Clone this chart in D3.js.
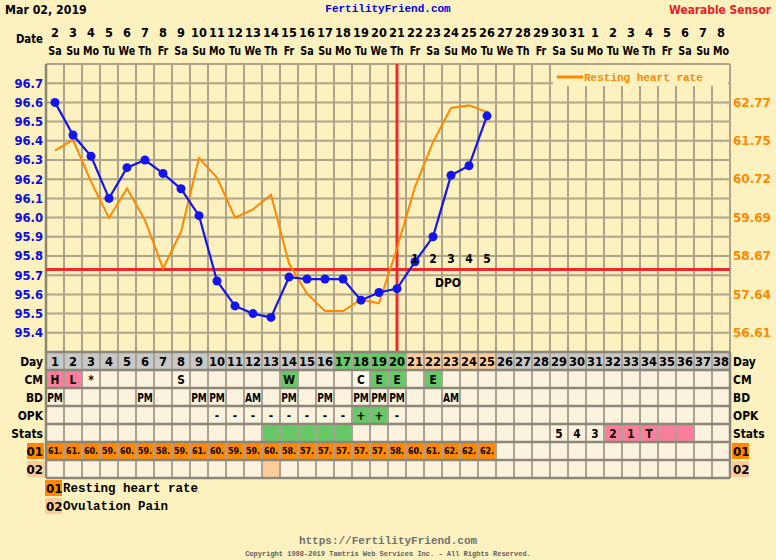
<!DOCTYPE html>
<html>
<head>
<meta charset="utf-8">
<script src="https://cdnjs.cloudflare.com/ajax/libs/d3/7.8.5/d3.min.js"></script>
<style>
  body { margin: 0; background: #fdf2bf; }
  svg { display: block; }
  .sans { font-family: Verdana, "DejaVu Sans", sans-serif; font-weight: bold; }
  .mono { font-family: "Courier New", "Liberation Mono", monospace; font-weight: bold; }
</style>
</head>
<body>
<div id="grafiek"></div>
<script>
// datums en dagen (cyclusdag 1 t/m 38)
var datums = [2,3,4,5,6,7,8,9,10,11,12,13,14,15,16,17,18,19,20,21,22,23,24,25,26,27,28,29,30,31,1,2,3,4,5,6,7,8];
var dagNamen = ["Sa","Su","Mo","Tu","We","Th","Fr","Sa","Su","Mo","Tu","We","Th","Fr","Sa","Su","Mo","Tu","We",
                "Th","Fr","Sa","Su","Mo","Tu","We","Th","Fr","Sa","Su","Mo","Tu","We","Th","Fr","Sa","Su","Mo"];

// temperatuur (blauw) en rusthartslag (oranje) per cyclusdag
var temperatuur = [96.60,96.43,96.32,96.10,96.26,96.30,96.23,96.15,96.01,95.67,95.54,95.50,95.48,
                   95.69,95.68,95.68,95.68,95.57,95.61,95.63,95.77,95.90,96.22,96.27,96.53];
var hartslag = [61.48,61.77,60.65,59.68,60.47,59.62,58.33,59.31,61.28,60.76,59.69,59.91,60.30,
                58.46,57.66,57.19,57.19,57.50,57.40,58.87,60.51,61.71,62.62,62.69,62.51];
var hartslagTicks = [56.61,57.64,58.67,59.69,60.72,61.75,62.77];
var coverline = 95.73;
var ovulatieDag = 20;
var dpo = [1,2,3,4,5];

// tabel gegevens
var cmData = [[1,"H","roze"],[2,"L","roze"],[3,"*",""],[8,"S",""],[14,"W","groen"],[18,"C","wit"],
              [19,"E","groen"],[20,"E","groen"],[22,"E","groen"]];
var bdData = [[1,"PM"],[6,"PM"],[9,"PM"],[10,"PM"],[12,"AM"],[14,"PM"],[16,"PM"],[18,"PM"],[19,"PM"],[20,"PM"],[23,"AM"]];
var opkData = [[10,"-",""],[11,"-",""],[12,"-",""],[13,"-",""],[14,"-",""],[15,"-",""],[16,"-",""],[17,"-",""],
               [18,"+","groen"],[19,"+","groen"],[20,"-",""]];
var statsData = [[13,"","groen"],[14,"","groen"],[15,"","groen"],[16,"","groen"],[17,"","groen"],
                 [29,"5",""],[30,"4",""],[31,"3",""],[32,"2","roze"],[33,"1","roze"],[34,"T","roze"],[35,"","roze"],[36,"","roze"]];
var pijnDagen = [13];
var dagVruchtbaar = [17,18,19,20];
var dagLuteaal = [21,22,23,24,25];

var rijLabels = ["Day","CM","BD","OPK","Stats","01","02"];
var legendaTeksten = ["Resting heart rate","Ovulation Pain"];

var kleuren = {roze: "#fb7f9c", groen: "#66c866", wit: "#fffaf0", grijs: "#c8c8c8",
               oranje: "#ff8800", lichtOranje: "#ffcc99", cel: "#fcf3df"};

// afmetingen
var breedte = 776, hoogte = 560;
var marge = {links: 46, rechts: 730, boven: 64, beneden: 352};
var rijHoogte = 18;

var svg = d3.select("#grafiek").append("svg")
            .attr("width", breedte).attr("height", hoogte);

var dagen = d3.range(1, 39);
var x = d3.scaleBand().domain(dagen).range([marge.links, marge.rechts]);
var y = d3.scaleLinear().domain([95.3, 96.8]).range([marge.beneden, marge.boven]);
var yHart = d3.scaleLinear().domain([56.61, 62.77]).range([y(95.4), y(96.6)]);
function mid(d) { return x(d) + x.bandwidth() / 2; }

// smallere letters (zoals Tahoma) door horizontaal te schalen
function plek(xx, yy, sx) { return "translate(" + xx + "," + yy + ") scale(" + sx + ",1)"; }
function schrijf(g, xx, yy, tekst, grootte, sx, anker) {
  return g.append("text").attr("class", "sans").attr("transform", plek(xx, yy, sx))
          .attr("text-anchor", anker || "start").attr("font-size", grootte).text(tekst);
}

// kop
schrijf(svg, 5, 14, "Mar 02, 2019", 12, 0.92);
svg.append("text").attr("class", "mono").attr("x", 388).attr("y", 12)
   .attr("text-anchor", "middle").attr("font-size", 11).attr("fill", "#0000ee").text("FertilityFriend.com");
schrijf(svg, 771, 14, "Wearable Sensor", 12, 0.89, "end").attr("fill", "#ee1c24");

schrijf(svg, 43, 43, "Date", 12, 0.85, "end");
svg.selectAll(".datum").data(dagen).enter().append("text")
   .attr("class", "sans").attr("transform", function(d) { return plek(mid(d), 37, 0.95); })
   .attr("text-anchor", "middle").attr("font-size", 12)
   .text(function(d) { return datums[d - 1]; });
svg.selectAll(".dagnaam").data(dagen).enter().append("text")
   .attr("class", "sans").attr("transform", function(d) { return plek(mid(d), 55, 0.8); })
   .attr("text-anchor", "middle").attr("font-size", 12)
   .text(function(d) { return dagNamen[d - 1]; });

// raster
var grid = svg.append("g").attr("stroke", "#ada48a").attr("stroke-width", 2);
grid.selectAll(".h").data(d3.range(0, 16)).enter().append("line")
    .attr("x1", marge.links).attr("x2", marge.rechts)
    .attr("y1", function(i) { return y(95.3 + i * 0.1); })
    .attr("y2", function(i) { return y(95.3 + i * 0.1); });
grid.selectAll(".v").data(dagen.slice(1)).enter().append("line")
    .attr("x1", function(d) { return x(d); }).attr("x2", function(d) { return x(d); })
    .attr("y1", marge.boven).attr("y2", marge.beneden);
svg.append("line").attr("x1", marge.links).attr("x2", marge.links)
   .attr("y1", marge.boven).attr("y2", marge.beneden)
   .attr("stroke", "#8c8570").attr("stroke-width", 2.5);
svg.append("line").attr("x1", marge.rechts).attr("x2", marge.rechts)
   .attr("y1", marge.boven).attr("y2", marge.beneden)
   .attr("stroke", "#ada48a").attr("stroke-width", 2);

// assen
var asLinks = d3.axisLeft(y).tickValues(d3.range(95.4, 96.75, 0.1)).tickFormat(d3.format(".1f")).tickSize(0).tickPadding(3);
svg.append("g").attr("transform", "translate(" + marge.links + ",0)").call(asLinks)
   .call(function(g) { g.select(".domain").remove(); })
   .selectAll("text").attr("class", "sans").attr("font-size", 12).attr("fill", "#0a0ae6")
   .attr("transform", "scale(0.97,1)");
var asRechts = d3.axisRight(yHart).tickValues(hartslagTicks).tickFormat(d3.format(".2f")).tickSize(0).tickPadding(3);
svg.append("g").attr("transform", "translate(" + marge.rechts + ",0)").call(asRechts)
   .call(function(g) { g.select(".domain").remove(); })
   .selectAll("text").attr("class", "sans").attr("font-size", 12).attr("fill", "#ff8800");

// legenda in de grafiek
var leg = svg.append("g");
leg.append("rect").attr("x", 553).attr("y", marge.boven + 1).attr("width", 175).attr("height", 21).attr("fill", "#fdf2bf");
leg.append("line").attr("x1", 557).attr("x2", 583).attr("y1", 77).attr("y2", 77)
   .attr("stroke", "#ff8800").attr("stroke-width", 3);
leg.append("text").attr("class", "mono").attr("x", 584).attr("y", 81).attr("font-size", 11)
   .attr("fill", "#ff8800").text(legendaTeksten[0]);

// coverline en ovulatielijn
svg.append("line").attr("x1", marge.links).attr("x2", marge.rechts)
   .attr("y1", y(coverline)).attr("y2", y(coverline))
   .attr("stroke", "#ee2a2a").attr("stroke-width", 3);
svg.append("line").attr("x1", mid(ovulatieDag)).attr("x2", mid(ovulatieDag))
   .attr("y1", marge.boven).attr("y2", marge.beneden)
   .attr("stroke", "#ee2a2a").attr("stroke-width", 3);

// hartslag lijn
var lijnHart = d3.line().x(function(d, i) { return mid(i + 1); }).y(function(d) { return yHart(d); });
svg.append("path").datum(hartslag).attr("d", lijnHart)
   .attr("fill", "none").attr("stroke", "#ff8800").attr("stroke-width", 2);

// temperatuur lijn met punten
var lijnTemp = d3.line().x(function(d, i) { return mid(i + 1); }).y(function(d) { return y(d); });
svg.append("path").datum(temperatuur).attr("d", lijnTemp)
   .attr("fill", "none").attr("stroke", "#1414ee").attr("stroke-width", 2.2);
svg.selectAll(".punt").data(temperatuur).enter().append("circle")
   .attr("cx", function(d, i) { return mid(i + 1); })
   .attr("cy", function(d) { return y(d); })
   .attr("r", 4.5).attr("fill", "#1414ee");

// DPO
dpo.forEach(function(d) {
  schrijf(svg, mid(ovulatieDag + d), y(coverline) - 6, d, 12, 0.9, "middle");
});
schrijf(svg, mid(ovulatieDag + 3) - 3, y(coverline) + 18, "DPO", 12, 0.9, "middle");

// tabel
var tabelTop = marge.beneden;
function rijY(r) { return tabelTop + r * rijHoogte; }
var tabel = svg.append("g");

// celachtergrond
rijLabels.forEach(function(label, r) {
  tabel.selectAll(".cel" + r).data(dagen).enter().append("rect")
       .attr("x", function(d) { return x(d); }).attr("y", rijY(r))
       .attr("width", x.bandwidth()).attr("height", rijHoogte)
       .attr("fill", function(d) {
         if (r == 0) {
           if (dagVruchtbaar.includes(d)) return kleuren.groen;
           if (dagLuteaal.includes(d)) return kleuren.lichtOranje;
           return kleuren.grijs;
         }
         if (r == 5 && d <= hartslag.length) return kleuren.oranje;
         if (r == 6 && pijnDagen.includes(d)) return kleuren.lichtOranje;
         return kleuren.cel;
       });
});

// gekleurde cellen met tekst
function vulRij(data, r, grootte, sx) {
  data.forEach(function(c) {
    if (c[2]) {
      tabel.append("rect").attr("x", x(c[0])).attr("y", rijY(r))
           .attr("width", x.bandwidth()).attr("height", rijHoogte).attr("fill", kleuren[c[2]]);
    }
    schrijf(tabel, mid(c[0]), rijY(r) + 14, c[1], grootte, sx, "middle");
  });
}
vulRij(cmData, 1, 12.5, 0.85);
vulRij(bdData.map(function(c) { return [c[0], c[1], ""]; }), 2, 12, 0.76);
vulRij(opkData, 3, 12.5, 0.85);
vulRij(statsData, 4, 12.5, 0.85);

// dagnummers
tabel.selectAll(".dagnr").data(dagen).enter().append("text")
     .attr("class", "sans").attr("transform", function(d) { return plek(mid(d), rijY(0) + 14, 0.92); })
     .attr("text-anchor", "middle").attr("font-size", 12.5).text(function(d) { return d; });

// hartslag afgekapt
tabel.selectAll(".hr").data(hartslag).enter().append("text")
     .attr("class", "sans").attr("x", function(d, i) { return mid(i + 1); }).attr("y", rijY(5) + 12)
     .attr("text-anchor", "middle").attr("font-size", 8).text(function(d) { return Math.floor(d) + "."; });

// tabellijnen
tabel.selectAll(".kol").data(dagen.slice(1)).enter().append("line")
     .attr("x1", function(d) { return x(d); }).attr("x2", function(d) { return x(d); })
     .attr("y1", tabelTop).attr("y2", rijY(7))
     .attr("stroke", "#aaa292").attr("stroke-width", 2);
tabel.selectAll(".rij").data(d3.range(0, 8)).enter().append("line")
     .attr("x1", marge.links).attr("x2", marge.rechts)
     .attr("y1", rijY).attr("y2", rijY)
     .attr("stroke", "#8a8678").attr("stroke-width", 2.5);
[marge.links, marge.rechts].forEach(function(xx) {
  tabel.append("line").attr("x1", xx).attr("x2", xx).attr("y1", tabelTop).attr("y2", rijY(7))
       .attr("stroke", "#8a8678").attr("stroke-width", 2.5);
});

// rijlabels links en rechts
rijLabels.forEach(function(label, r) {
  if (r >= 5) {
    var kleur = r == 5 ? kleuren.oranje : kleuren.lichtOranje;
    tabel.append("rect").attr("x", 27).attr("y", rijY(r) + 1).attr("width", 17).attr("height", 16).attr("fill", kleur);
    tabel.append("rect").attr("x", 732).attr("y", rijY(r) + 1).attr("width", 17).attr("height", 16).attr("fill", kleur);
  }
  var sx = r >= 5 ? 0.95 : 0.86;
  schrijf(tabel, 43, rijY(r) + 14, label, 12.5, sx, "end");
  schrijf(tabel, 733, rijY(r) + 14, label, 12.5, sx);
});

// legenda onder
legendaTeksten.forEach(function(t, i) {
  var yy = 480 + i * 18;
  svg.append("rect").attr("x", 45).attr("y", yy).attr("width", 17).attr("height", 16)
     .attr("fill", i == 0 ? kleuren.oranje : kleuren.lichtOranje);
  schrijf(svg, 46, yy + 13, rijLabels[5 + i], 12.5, 0.95);
  svg.append("text").attr("class", "mono").attr("x", 63).attr("y", yy + 12).attr("font-size", 12.5)
     .text(t);
});

// voettekst
svg.append("text").attr("class", "mono").attr("x", 388).attr("y", 544)
   .attr("text-anchor", "middle").attr("font-size", 11).attr("fill", "#707070").text("https://FertilityFriend.com");
svg.append("text").attr("class", "mono").attr("x", 388).attr("y", 556)
   .attr("text-anchor", "middle").attr("font-size", 7).attr("fill", "#606060")
   .text("Copyright 1998-2019 Tamtris Web Services Inc. - All Rights Reserved.");
</script>
</body>
</html>
